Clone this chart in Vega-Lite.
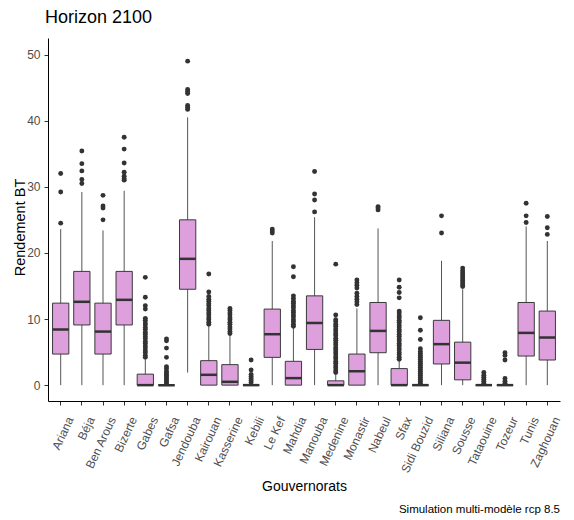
{
  "$schema": "https://vega.github.io/schema/vega-lite/v6.json",
  "autosize": {"type": "none"},
  "padding": {"left": 48, "top": 38, "right": 14, "bottom": 119},
  "width": 512,
  "height": 363,
  "background": "white",
  "title": {"text": "Horizon 2100", "anchor": "start", "frame": "group", "font": "Liberation Sans", "fontSize": 18, "fontWeight": "normal", "color": "black", "baseline": "alphabetic", "offset": 15, "dx": -3, "dy": 18},
  "config": {"view": {"stroke": null}, "font": "Liberation Sans"},
  "datasets": {
    "boxes": [
      {"gov": "Ariana", "lo": 0, "q1": 4.7, "med": 8.4, "q3": 12.4, "hi": 23.6},
      {"gov": "Béja", "lo": 0, "q1": 9.1, "med": 12.6, "q3": 17.2, "hi": 29.2},
      {"gov": "Ben Arous", "lo": 0, "q1": 4.7, "med": 8.1, "q3": 12.4, "hi": 23.4},
      {"gov": "Bizerte", "lo": 0, "q1": 9.1, "med": 12.9, "q3": 17.2, "hi": 29.4},
      {"gov": "Gabes", "lo": 0, "q1": 0, "med": 0, "q3": 1.66, "hi": 3.9},
      {"gov": "Gafsa", "lo": 0, "q1": 0, "med": 0, "q3": 0, "hi": 0},
      {"gov": "Jendouba", "lo": 1.9, "q1": 14.5, "med": 19.1, "q3": 25.0, "hi": 40.5},
      {"gov": "Kairouan", "lo": 0, "q1": 0, "med": 1.56, "q3": 3.7, "hi": 9.0},
      {"gov": "Kasserine", "lo": 0, "q1": 0, "med": 0.5, "q3": 3.1, "hi": 7.6},
      {"gov": "Kebili", "lo": 0, "q1": 0, "med": 0, "q3": 0, "hi": 0},
      {"gov": "Le Kef", "lo": 0, "q1": 4.2, "med": 7.7, "q3": 11.5, "hi": 21.8},
      {"gov": "Mahdia", "lo": 0, "q1": 0, "med": 1.06, "q3": 3.6, "hi": 8.7},
      {"gov": "Manouba", "lo": 0, "q1": 5.4, "med": 9.4, "q3": 13.5, "hi": 25.4},
      {"gov": "Medenine", "lo": 0, "q1": 0, "med": 0, "q3": 0.65, "hi": 1.6},
      {"gov": "Monastir", "lo": 0, "q1": 0, "med": 2.1, "q3": 4.7, "hi": 11.6},
      {"gov": "Nabeul", "lo": 0, "q1": 4.9, "med": 8.2, "q3": 12.5, "hi": 23.7},
      {"gov": "Sfax", "lo": 0, "q1": 0, "med": 0, "q3": 2.5, "hi": 3.7},
      {"gov": "Sidi Bouzid", "lo": 0, "q1": 0, "med": 0, "q3": 0, "hi": 0},
      {"gov": "Siliana", "lo": 0, "q1": 3.2, "med": 6.2, "q3": 9.8, "hi": 18.8},
      {"gov": "Sousse", "lo": 0, "q1": 0.8, "med": 3.4, "q3": 6.5, "hi": 14.5},
      {"gov": "Tataouine", "lo": 0, "q1": 0, "med": 0, "q3": 0, "hi": 0},
      {"gov": "Tozeur", "lo": 0, "q1": 0, "med": 0, "q3": 0, "hi": 0},
      {"gov": "Tunis", "lo": 0, "q1": 4.4, "med": 7.9, "q3": 12.5, "hi": 24.0},
      {"gov": "Zaghouan", "lo": 0, "q1": 3.8, "med": 7.2, "q3": 11.2, "hi": 21.8}
    ],
    "outliers": [
      {"gov": "Ariana", "v": 24.5}, {"gov": "Ariana", "v": 29.2}, {"gov": "Ariana", "v": 32.0},
      {"gov": "Béja", "v": 30.5}, {"gov": "Béja", "v": 31.1}, {"gov": "Béja", "v": 32.4}, {"gov": "Béja", "v": 33.5}, {"gov": "Béja", "v": 35.4},
      {"gov": "Ben Arous", "v": 25.0}, {"gov": "Ben Arous", "v": 26.8}, {"gov": "Ben Arous", "v": 27.1}, {"gov": "Ben Arous", "v": 28.7},
      {"gov": "Bizerte", "v": 31.0}, {"gov": "Bizerte", "v": 31.2}, {"gov": "Bizerte", "v": 31.6}, {"gov": "Bizerte", "v": 32.2}, {"gov": "Bizerte", "v": 33.6}, {"gov": "Bizerte", "v": 35.7}, {"gov": "Bizerte", "v": 37.5},
      {"gov": "Gabes", "v": 4.2}, {"gov": "Gabes", "v": 4.5}, {"gov": "Gabes", "v": 4.9}, {"gov": "Gabes", "v": 5.2}, {"gov": "Gabes", "v": 5.6}, {"gov": "Gabes", "v": 5.9}, {"gov": "Gabes", "v": 6.3}, {"gov": "Gabes", "v": 6.6}, {"gov": "Gabes", "v": 7.0}, {"gov": "Gabes", "v": 7.3}, {"gov": "Gabes", "v": 7.7}, {"gov": "Gabes", "v": 8.0}, {"gov": "Gabes", "v": 8.4}, {"gov": "Gabes", "v": 8.7}, {"gov": "Gabes", "v": 9.1}, {"gov": "Gabes", "v": 9.4}, {"gov": "Gabes", "v": 9.8}, {"gov": "Gabes", "v": 10.1}, {"gov": "Gabes", "v": 11.5}, {"gov": "Gabes", "v": 12.0}, {"gov": "Gabes", "v": 13.3}, {"gov": "Gabes", "v": 16.3},
      {"gov": "Gafsa", "v": 0.3}, {"gov": "Gafsa", "v": 0.6}, {"gov": "Gafsa", "v": 0.9}, {"gov": "Gafsa", "v": 1.2}, {"gov": "Gafsa", "v": 1.5}, {"gov": "Gafsa", "v": 1.8}, {"gov": "Gafsa", "v": 2.1}, {"gov": "Gafsa", "v": 2.5}, {"gov": "Gafsa", "v": 2.8}, {"gov": "Gafsa", "v": 4.2}, {"gov": "Gafsa", "v": 5.6}, {"gov": "Gafsa", "v": 6.7}, {"gov": "Gafsa", "v": 7.0},
      {"gov": "Jendouba", "v": 41.7}, {"gov": "Jendouba", "v": 42.0}, {"gov": "Jendouba", "v": 42.3}, {"gov": "Jendouba", "v": 44.1}, {"gov": "Jendouba", "v": 44.4}, {"gov": "Jendouba", "v": 44.7}, {"gov": "Jendouba", "v": 49.0},
      {"gov": "Kairouan", "v": 9.2}, {"gov": "Kairouan", "v": 9.5}, {"gov": "Kairouan", "v": 9.9}, {"gov": "Kairouan", "v": 10.2}, {"gov": "Kairouan", "v": 10.6}, {"gov": "Kairouan", "v": 10.9}, {"gov": "Kairouan", "v": 11.3}, {"gov": "Kairouan", "v": 11.6}, {"gov": "Kairouan", "v": 12.0}, {"gov": "Kairouan", "v": 12.3}, {"gov": "Kairouan", "v": 12.7}, {"gov": "Kairouan", "v": 13.0}, {"gov": "Kairouan", "v": 13.4}, {"gov": "Kairouan", "v": 14.1}, {"gov": "Kairouan", "v": 16.8},
      {"gov": "Kasserine", "v": 7.8}, {"gov": "Kasserine", "v": 8.1}, {"gov": "Kasserine", "v": 8.5}, {"gov": "Kasserine", "v": 8.8}, {"gov": "Kasserine", "v": 9.2}, {"gov": "Kasserine", "v": 9.5}, {"gov": "Kasserine", "v": 9.9}, {"gov": "Kasserine", "v": 10.2}, {"gov": "Kasserine", "v": 10.6}, {"gov": "Kasserine", "v": 10.9}, {"gov": "Kasserine", "v": 11.3}, {"gov": "Kasserine", "v": 11.6},
      {"gov": "Kebili", "v": 0.4}, {"gov": "Kebili", "v": 0.7}, {"gov": "Kebili", "v": 1.0}, {"gov": "Kebili", "v": 1.3}, {"gov": "Kebili", "v": 1.6}, {"gov": "Kebili", "v": 2.3}, {"gov": "Kebili", "v": 3.8},
      {"gov": "Le Kef", "v": 23.0}, {"gov": "Le Kef", "v": 23.3}, {"gov": "Le Kef", "v": 23.6},
      {"gov": "Mahdia", "v": 8.9}, {"gov": "Mahdia", "v": 9.2}, {"gov": "Mahdia", "v": 9.6}, {"gov": "Mahdia", "v": 9.9}, {"gov": "Mahdia", "v": 10.3}, {"gov": "Mahdia", "v": 10.6}, {"gov": "Mahdia", "v": 11.0}, {"gov": "Mahdia", "v": 11.3}, {"gov": "Mahdia", "v": 11.7}, {"gov": "Mahdia", "v": 12.0}, {"gov": "Mahdia", "v": 12.4}, {"gov": "Mahdia", "v": 12.7}, {"gov": "Mahdia", "v": 13.1}, {"gov": "Mahdia", "v": 13.5}, {"gov": "Mahdia", "v": 16.4}, {"gov": "Mahdia", "v": 17.9},
      {"gov": "Manouba", "v": 26.2}, {"gov": "Manouba", "v": 28.0}, {"gov": "Manouba", "v": 28.9}, {"gov": "Manouba", "v": 32.3},
      {"gov": "Medenine", "v": 1.9}, {"gov": "Medenine", "v": 2.2}, {"gov": "Medenine", "v": 2.6}, {"gov": "Medenine", "v": 2.9}, {"gov": "Medenine", "v": 3.3}, {"gov": "Medenine", "v": 3.6}, {"gov": "Medenine", "v": 4.0}, {"gov": "Medenine", "v": 4.3}, {"gov": "Medenine", "v": 4.7}, {"gov": "Medenine", "v": 5.0}, {"gov": "Medenine", "v": 5.4}, {"gov": "Medenine", "v": 5.7}, {"gov": "Medenine", "v": 6.1}, {"gov": "Medenine", "v": 6.4}, {"gov": "Medenine", "v": 6.8}, {"gov": "Medenine", "v": 7.1}, {"gov": "Medenine", "v": 7.5}, {"gov": "Medenine", "v": 7.8}, {"gov": "Medenine", "v": 8.2}, {"gov": "Medenine", "v": 8.5}, {"gov": "Medenine", "v": 8.9}, {"gov": "Medenine", "v": 9.2}, {"gov": "Medenine", "v": 9.6}, {"gov": "Medenine", "v": 9.9}, {"gov": "Medenine", "v": 10.6}, {"gov": "Medenine", "v": 18.3},
      {"gov": "Monastir", "v": 12.2}, {"gov": "Monastir", "v": 12.6}, {"gov": "Monastir", "v": 13.0}, {"gov": "Monastir", "v": 13.4}, {"gov": "Monastir", "v": 13.9}, {"gov": "Monastir", "v": 14.7}, {"gov": "Monastir", "v": 15.1}, {"gov": "Monastir", "v": 15.5}, {"gov": "Monastir", "v": 15.9},
      {"gov": "Nabeul", "v": 26.5}, {"gov": "Nabeul", "v": 26.8}, {"gov": "Nabeul", "v": 27.0},
      {"gov": "Sfax", "v": 3.9}, {"gov": "Sfax", "v": 4.2}, {"gov": "Sfax", "v": 4.6}, {"gov": "Sfax", "v": 4.9}, {"gov": "Sfax", "v": 5.3}, {"gov": "Sfax", "v": 5.6}, {"gov": "Sfax", "v": 6.0}, {"gov": "Sfax", "v": 6.3}, {"gov": "Sfax", "v": 6.7}, {"gov": "Sfax", "v": 7.0}, {"gov": "Sfax", "v": 7.4}, {"gov": "Sfax", "v": 7.7}, {"gov": "Sfax", "v": 8.1}, {"gov": "Sfax", "v": 8.4}, {"gov": "Sfax", "v": 8.8}, {"gov": "Sfax", "v": 9.1}, {"gov": "Sfax", "v": 9.5}, {"gov": "Sfax", "v": 9.8}, {"gov": "Sfax", "v": 10.2}, {"gov": "Sfax", "v": 10.5}, {"gov": "Sfax", "v": 10.9}, {"gov": "Sfax", "v": 11.2}, {"gov": "Sfax", "v": 13.2}, {"gov": "Sfax", "v": 14.0}, {"gov": "Sfax", "v": 14.8}, {"gov": "Sfax", "v": 15.9},
      {"gov": "Sidi Bouzid", "v": 0.3}, {"gov": "Sidi Bouzid", "v": 0.6}, {"gov": "Sidi Bouzid", "v": 0.9}, {"gov": "Sidi Bouzid", "v": 1.2}, {"gov": "Sidi Bouzid", "v": 1.5}, {"gov": "Sidi Bouzid", "v": 1.8}, {"gov": "Sidi Bouzid", "v": 2.1}, {"gov": "Sidi Bouzid", "v": 2.4}, {"gov": "Sidi Bouzid", "v": 2.7}, {"gov": "Sidi Bouzid", "v": 3.0}, {"gov": "Sidi Bouzid", "v": 3.3}, {"gov": "Sidi Bouzid", "v": 3.6}, {"gov": "Sidi Bouzid", "v": 3.9}, {"gov": "Sidi Bouzid", "v": 4.2}, {"gov": "Sidi Bouzid", "v": 4.5}, {"gov": "Sidi Bouzid", "v": 4.8}, {"gov": "Sidi Bouzid", "v": 5.1}, {"gov": "Sidi Bouzid", "v": 5.5}, {"gov": "Sidi Bouzid", "v": 6.9}, {"gov": "Sidi Bouzid", "v": 8.3}, {"gov": "Sidi Bouzid", "v": 10.2},
      {"gov": "Siliana", "v": 23.0}, {"gov": "Siliana", "v": 25.6},
      {"gov": "Sousse", "v": 14.9}, {"gov": "Sousse", "v": 15.2}, {"gov": "Sousse", "v": 15.5}, {"gov": "Sousse", "v": 15.8}, {"gov": "Sousse", "v": 16.1}, {"gov": "Sousse", "v": 16.4}, {"gov": "Sousse", "v": 16.7}, {"gov": "Sousse", "v": 17.0}, {"gov": "Sousse", "v": 17.3}, {"gov": "Sousse", "v": 17.7},
      {"gov": "Tataouine", "v": 0.3}, {"gov": "Tataouine", "v": 0.6}, {"gov": "Tataouine", "v": 0.9}, {"gov": "Tataouine", "v": 1.2}, {"gov": "Tataouine", "v": 1.5}, {"gov": "Tataouine", "v": 1.9},
      {"gov": "Tozeur", "v": 0.3}, {"gov": "Tozeur", "v": 0.6}, {"gov": "Tozeur", "v": 1.0}, {"gov": "Tozeur", "v": 3.8}, {"gov": "Tozeur", "v": 4.5}, {"gov": "Tozeur", "v": 4.9},
      {"gov": "Tunis", "v": 24.6}, {"gov": "Tunis", "v": 25.6}, {"gov": "Tunis", "v": 27.5},
      {"gov": "Zaghouan", "v": 22.8}, {"gov": "Zaghouan", "v": 23.8}, {"gov": "Zaghouan", "v": 25.5}
    ],
    "caption": [{"txt": "Simulation multi-modèle rcp 8.5"}]
  },
  "layer": [
    {
      "data": {"name": "boxes"},
      "mark": {"type": "rule", "stroke": "#555555", "strokeWidth": 1},
      "encoding": {
        "x": {"field": "gov", "type": "nominal",
          "scale": {"domain": ["Ariana","Béja","Ben Arous","Bizerte","Gabes","Gafsa","Jendouba","Kairouan","Kasserine","Kebili","Le Kef","Mahdia","Manouba","Medenine","Monastir","Nabeul","Sfax","Sidi Bouzid","Siliana","Sousse","Tataouine","Tozeur","Tunis","Zaghouan"], "paddingInner": 0, "paddingOuter": 0.1},
          "axis": {"title": "Gouvernorats", "titleFont": "Liberation Sans", "titleFontSize": 14, "titleFontWeight": "normal", "titleColor": "black", "titleY": 85, "titleBaseline": "middle",
            "labelAngle": -65, "labelAlign": "right", "labelBaseline": "top", "labelFont": "Liberation Sans", "labelFontSize": 12, "labelColor": "#4d4d4d", "labelPadding": 10, "labelOffset": 5,
            "domainColor": "black", "domainWidth": 1, "tickColor": "#333333", "tickSize": 4, "tickWidth": 1, "grid": false}},
        "y": {"field": "lo", "type": "quantitative",
          "scale": {"domain": [-2.4, 52.5], "nice": false, "zero": false},
          "axis": {"title": "Rendement BT", "titleFont": "Liberation Sans", "titleFontSize": 14.5, "titleFontWeight": "normal", "titleColor": "black", "titleAngle": 270, "titleX": -24, "titleY": 189, "titleAlign": "center", "titleBaseline": "alphabetic",
            "values": [0, 10, 20, 30, 40, 50], "labelFont": "Liberation Sans", "labelFontSize": 12, "labelColor": "#4d4d4d", "labelPadding": 4,
            "domainColor": "black", "domainWidth": 1, "tickColor": "#333333", "tickSize": 4, "tickWidth": 1, "grid": false}},
        "y2": {"field": "hi"}
      }
    },
    {
      "data": {"name": "boxes"},
      "mark": {"type": "bar", "fill": "#DDA0DD", "stroke": "#3a3a3a", "strokeWidth": 1, "width": {"band": 0.77}},
      "encoding": {
        "x": {"field": "gov", "type": "nominal"},
        "y": {"field": "q1", "type": "quantitative"},
        "y2": {"field": "q3"}
      }
    },
    {
      "data": {"name": "boxes"},
      "mark": {"type": "tick", "color": "#333333", "thickness": 2.5, "size": 16.3, "opacity": 1},
      "encoding": {
        "x": {"field": "gov", "type": "nominal"},
        "y": {"field": "med", "type": "quantitative"}
      }
    },
    {
      "data": {"name": "outliers"},
      "mark": {"type": "point", "filled": true, "color": "#333333", "size": 24, "opacity": 1},
      "encoding": {
        "x": {"field": "gov", "type": "nominal"},
        "y": {"field": "v", "type": "quantitative"}
      }
    },
    {
      "data": {"name": "caption"},
      "mark": {"type": "text", "align": "right", "baseline": "middle", "font": "Liberation Sans", "fontSize": 11.5, "color": "black"},
      "encoding": {
        "x": {"value": 512},
        "y": {"value": 472},
        "text": {"field": "txt"}
      }
    }
  ]
}
